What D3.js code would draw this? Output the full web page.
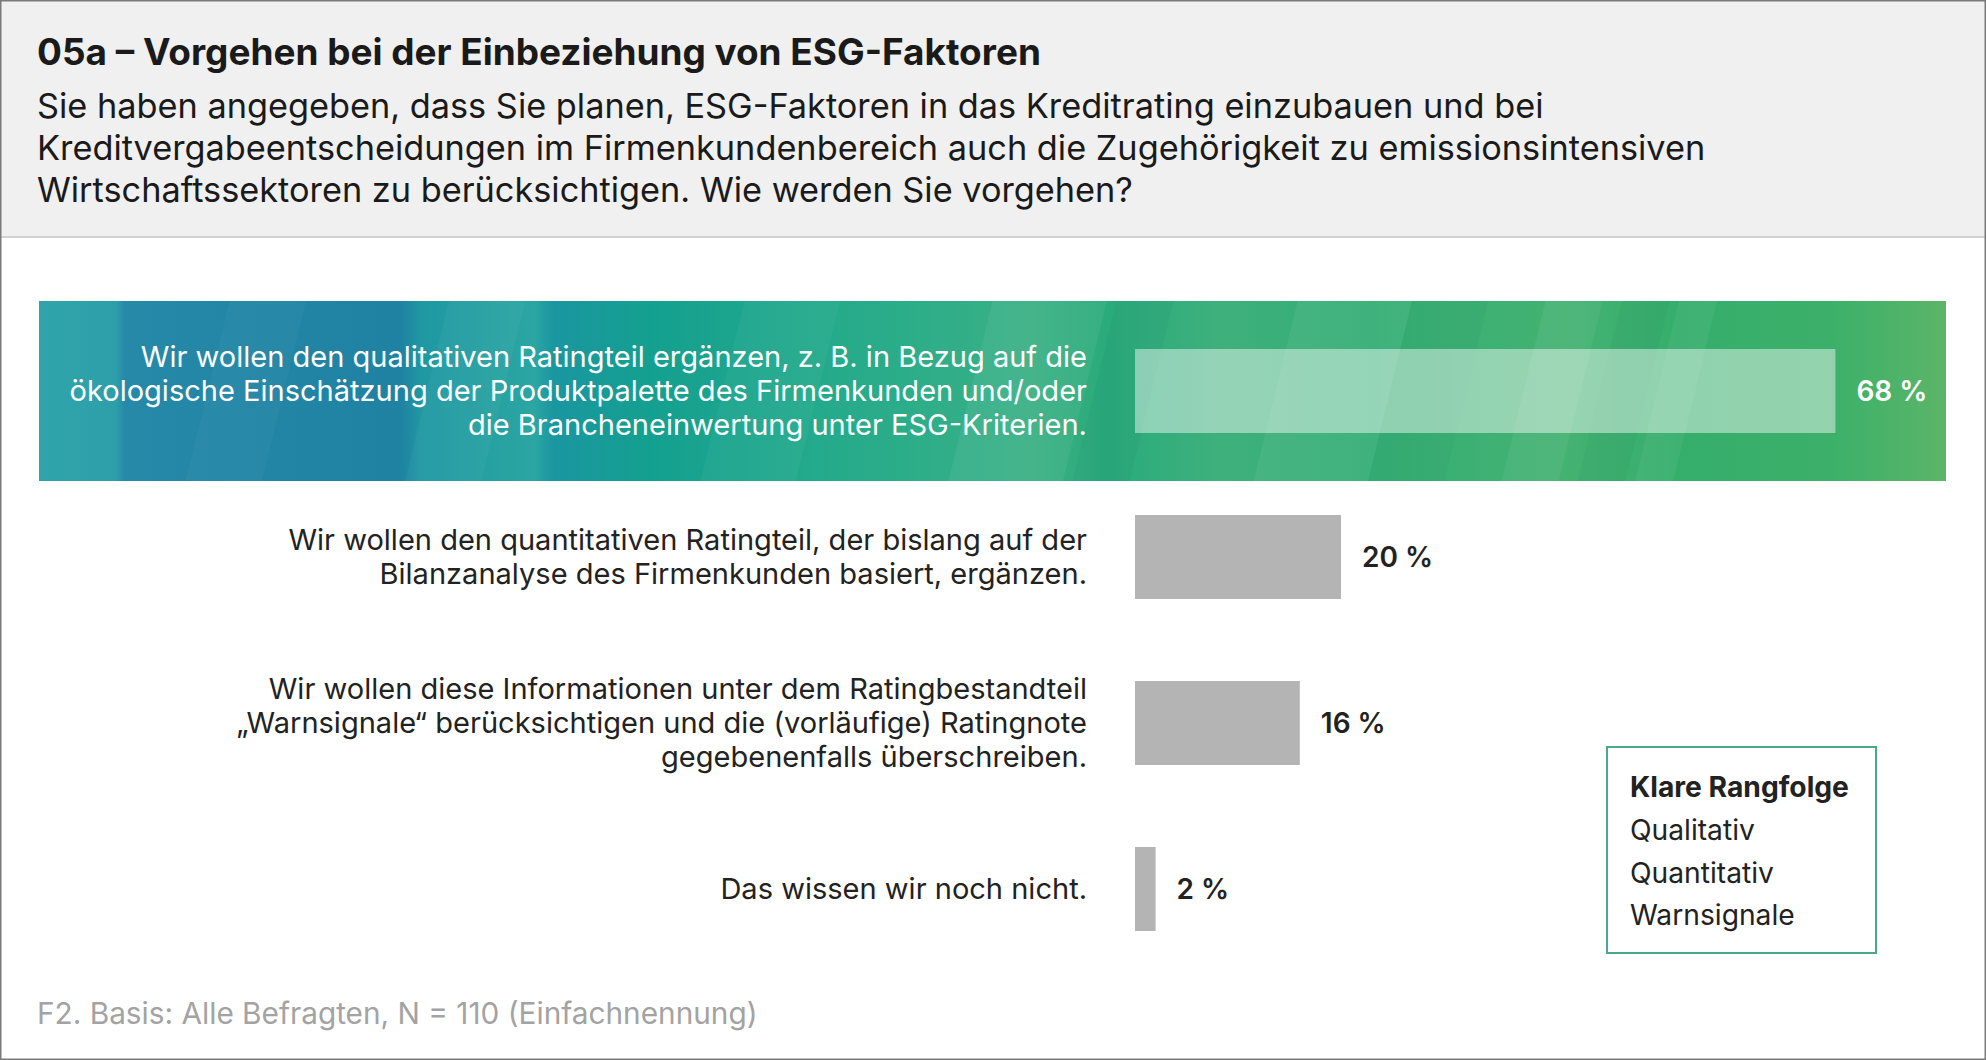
<!DOCTYPE html>
<html><head><meta charset="utf-8">
<script src="https://cdn.jsdelivr.net/npm/d3@7"></script>
<style>html,body{margin:0;padding:0;background:#fff;overflow:hidden;} svg{display:block;font-family:Inter,"Noto Sans",sans-serif;}</style>
</head><body><svg id="c" width="1986" height="1060"></svg>
<script>
// ---------- data ----------
const titleText = "05a – Vorgehen bei der Einbeziehung von ESG-Faktoren";
const subtitleLines = [
  "Sie haben angegeben, dass Sie planen, ESG-Faktoren in das Kreditrating einzubauen und bei",
  "Kreditvergabeentscheidungen im Firmenkundenbereich auch die Zugehörigkeit zu emissionsintensiven",
  "Wirtschaftssektoren zu berücksichtigen. Wie werden Sie vorgehen?"
];
const categories = ["Qualitativ", "Quantitativ", "Warnsignale", "Weiß nicht"];
const categoryLabels = [
  ["Wir wollen den qualitativen Ratingteil ergänzen, z. B. in Bezug auf die",
   "ökologische Einschätzung der Produktpalette des Firmenkunden und/oder",
   "die Brancheneinwertung unter ESG-Kriterien."],
  ["Wir wollen den quantitativen Ratingteil, der bislang auf der",
   "Bilanzanalyse des Firmenkunden basiert, ergänzen."],
  ["Wir wollen diese Informationen unter dem Ratingbestandteil",
   "„Warnsignale“ berücksichtigen und die (vorläufige) Ratingnote",
   "gegebenenfalls überschreiben."],
  ["Das wissen wir noch nicht."]
];
const values = [68, 20, 16, 2];
const valueLabels = ["68 %", "20 %", "16 %", "2 %"];
const highlightIndex = 0;
const legendTitle = "Klare Rangfolge";
const legendItems = ["Qualitativ", "Quantitativ", "Warnsignale"];
const footnote = "F2. Basis: Alle Befragten, N = 110 (Einfachnennung)";

// decorative banner gradient & stripes (colour only)
const bannerStops = [
  [0.00, "#30a4aa"], [0.04, "#2d9faa"], [0.045, "#2789a8"], [0.10, "#2386a6"],
  [0.19, "#1f82a2"], [0.20, "#1f98a2"], [0.26, "#2ba6a2"], [0.27, "#1a96a0"],
  [0.32, "#14a090"], [0.40, "#22a98c"], [0.47, "#2fae88"], [0.52, "#3ab084"],
  [0.56, "#2aab7c"], [0.62, "#3eb07c"], [0.70, "#34ae74"], [0.80, "#44b272"],
  [0.86, "#35ae6c"], [0.94, "#3cb06a"], [1.00, "#5bb568"]
];
const stripes = [
  {x: 0.10, w: 0.04, c: "#ffffff", o: 0.03}, {x: 0.215, w: 0.04, c: "#ffffff", o: 0.04},
  {x: 0.37, w: 0.05, c: "#ffffff", o: 0.04},
  {x: 0.50, w: 0.06, c: "#ffffff", o: 0.06}, {x: 0.565, w: 0.03, c: "#0b6a50", o: 0.06},
  {x: 0.66, w: 0.06, c: "#ffffff", o: 0.06}, {x: 0.72, w: 0.04, c: "#0b6a50", o: 0.05},
  {x: 0.79, w: 0.03, c: "#ffffff", o: 0.06}, {x: 0.83, w: 0.025, c: "#0b6a50", o: 0.06},
  {x: 0.86, w: 0.02, c: "#ffffff", o: 0.05}
];

// ---------- layout ----------
const W = 1986, H = 1060;
const svg = d3.select("#c");

function fit(textSel, target) {
  textSel.attr("font-size", 100);
  const w = textSel.node().getComputedTextLength();
  const s = 100 * target / w;
  textSel.attr("font-size", s);
  return s;
}

// header
svg.append("rect").attr("x", 0).attr("y", 0).attr("width", W).attr("height", 237).attr("fill", "#f0f0f0");
svg.append("line").attr("x1", 0).attr("x2", W).attr("y1", 237).attr("y2", 237).attr("stroke", "#d2d2d2").attr("stroke-width", 2);

const title = svg.append("text").attr("x", 37).attr("y", 65).attr("font-weight", 700).attr("fill", "#1a1a1a").text(titleText);
fit(title, 1004);

const subs = svg.selectAll("text.sub").data(subtitleLines).join("text").attr("class", "sub")
  .attr("x", 37).attr("y", (d, i) => 118 + i * 42).attr("fill", "#1a1a1a").text(d => d);
const subSize = fit(d3.select(subs.nodes()[1]), 1669);
subs.attr("font-size", subSize);

// scales
const x = d3.scaleLinear().domain([0, 100]).range([1135, 1135 + 1030]);
const y = d3.scalePoint().domain(categories).range([391, 889]);
const barH = 84;

// banner for highlighted item
const defs = svg.append("defs");
const grad = defs.append("linearGradient").attr("id", "bannerGrad").attr("x1", "0%").attr("x2", "100%").attr("y1", "0%").attr("y2", "0%");
grad.selectAll("stop").data(bannerStops).join("stop").attr("offset", d => d[0]).attr("stop-color", d => d[1]);
const bx0 = 39, bw = 1907, by0 = y(categories[highlightIndex]) - 90, bh = 180;
defs.append("clipPath").attr("id", "bannerClip").append("rect")
  .attr("x", bx0).attr("y", by0).attr("width", bw).attr("height", bh);

const banner = svg.append("g").attr("clip-path", "url(#bannerClip)");
banner.append("rect").attr("x", bx0).attr("y", by0).attr("width", bw).attr("height", bh).attr("fill", "url(#bannerGrad)");
const slant = 44;
banner.selectAll("path.stripe").data(stripes).join("path").attr("class", "stripe")
  .attr("d", d => {
    const xl = bx0 + d.x * bw, xr = xl + d.w * bw;
    return `M${xl},${by0} L${xr},${by0} L${xr - slant},${by0 + bh} L${xl - slant},${by0 + bh} Z`;
  })
  .attr("fill", d => d.c).attr("opacity", d => d.o);

// bars
svg.selectAll("rect.bar").data(values).join("rect").attr("class", "bar")
  .attr("x", x(0)).attr("y", (d, i) => y(categories[i]) - barH / 2)
  .attr("width", d => x(d) - x(0)).attr("height", barH)
  .attr("fill", (d, i) => i === highlightIndex ? "#ffffff" : "#b4b4b4")
  .attr("fill-opacity", (d, i) => i === highlightIndex ? 0.45 : 1);

// value labels
svg.selectAll("text.val").data(values).join("text").attr("class", "val")
  .attr("x", d => x(d) + 21).attr("y", (d, i) => y(categories[i]) + 10)
  .attr("font-size", 28).attr("font-weight", 600)
  .attr("fill", (d, i) => i === highlightIndex ? "#ffffff" : "#222222")
  .text((d, i) => valueLabels[i]);

// category labels
const probe = svg.append("text").attr("x", 0).attr("y", -100).text(categoryLabels[1][0]);
const labSize = fit(probe, 799);
probe.remove();
const lineH = 34;
categoryLabels.forEach((lines, i) => {
  const cy = y(categories[i]);
  const n = lines.length;
  svg.append("g").selectAll("text").data(lines).join("text")
    .attr("x", 1087).attr("text-anchor", "end")
    .attr("y", (d, j) => cy + (j - (n - 1) / 2) * lineH + labSize * 0.36)
    .attr("font-size", labSize)
    .attr("fill", i === highlightIndex ? "#ffffff" : "#222222")
    .text(d => d);
});

// legend box
svg.append("rect").attr("x", 1607).attr("y", 747).attr("width", 269).attr("height", 206)
  .attr("fill", "#ffffff").attr("stroke", "#4aaa85").attr("stroke-width", 2);
const lt = svg.append("text").attr("x", 1630).attr("y", 797).attr("font-weight", 700).attr("fill", "#222").text(legendTitle);
const legSize = fit(lt, 219);
svg.selectAll("text.leg").data(legendItems).join("text").attr("class", "leg")
  .attr("x", 1630).attr("y", (d, i) => 840 + i * 42.5).attr("font-size", legSize).attr("fill", "#222").text(d => d);

// footnote
const fn = svg.append("text").attr("x", 37).attr("y", 1024).attr("fill", "#a3a3a3").text(footnote);
fit(fn, 721);

// outer frame
svg.append("rect").attr("x", 0.75).attr("y", 0.75).attr("width", W - 1.5).attr("height", H - 1.5)
  .attr("fill", "none").attr("stroke", "#7a7a7a").attr("stroke-width", 1.5);
</script>
</body></html>
